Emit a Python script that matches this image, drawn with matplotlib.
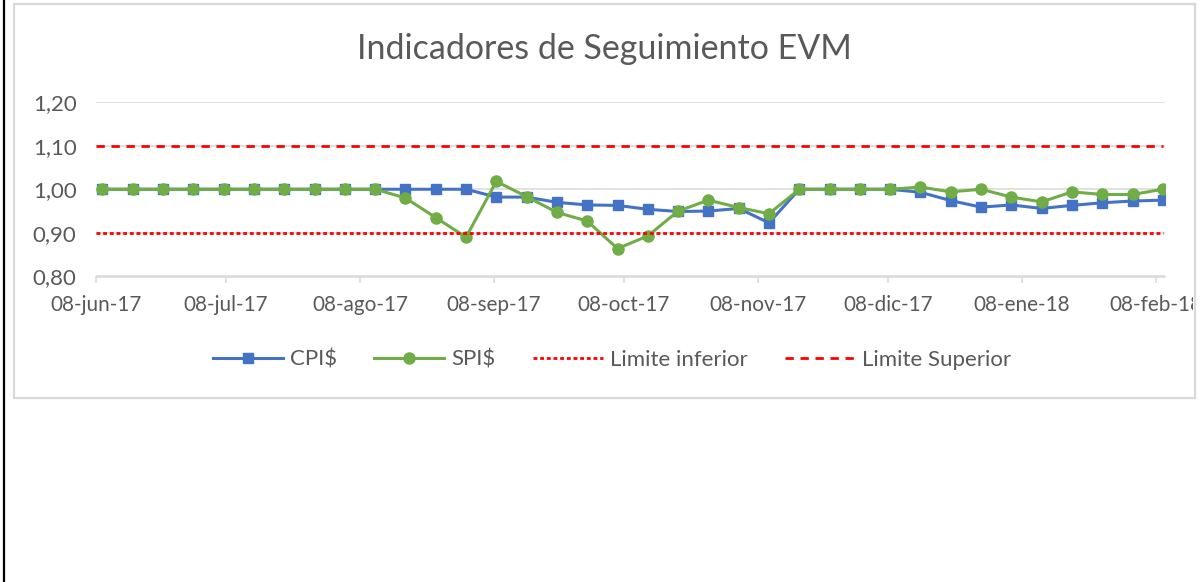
import matplotlib
matplotlib.use("Agg")
import matplotlib.pyplot as plt
from matplotlib.lines import Line2D
from matplotlib.patches import Rectangle
from matplotlib.transforms import Bbox, TransformedBbox
import pandas as pd

# Weekly reporting dates
fechas = [
    "2017-06-09", "2017-06-16", "2017-06-23", "2017-06-30", "2017-07-07", "2017-07-14",
    "2017-07-21", "2017-07-28", "2017-08-04", "2017-08-11", "2017-08-18", "2017-08-25",
    "2017-09-01", "2017-09-08", "2017-09-15", "2017-09-22", "2017-09-29", "2017-10-06",
    "2017-10-13", "2017-10-20", "2017-10-27", "2017-11-03", "2017-11-10", "2017-11-17",
    "2017-11-24", "2017-12-01", "2017-12-08", "2017-12-15", "2017-12-22", "2017-12-29",
    "2018-01-05", "2018-01-12", "2018-01-19", "2018-01-26", "2018-02-02", "2018-02-09",
]

# Cost performance index
cpi = [
    1.00, 1.00, 1.00, 1.00, 1.00, 1.00, 1.00, 1.00, 1.00, 1.00, 1.00, 1.00,
    1.00, 0.982, 0.982, 0.970, 0.964, 0.963, 0.954, 0.949, 0.950, 0.956,
    0.923, 1.00, 1.00, 1.00, 1.00, 0.993, 0.974, 0.959, 0.964, 0.956,
    0.963, 0.969, 0.973, 0.975,
]

# Schedule performance index
spi = [
    1.00, 1.00, 1.00, 1.00, 1.00, 1.00, 1.00, 1.00, 1.00, 1.00, 0.980, 0.935,
    0.890, 1.018, 0.983, 0.947, 0.927, 0.864, 0.893, 0.950, 0.975, 0.958,
    0.944, 1.00, 1.00, 1.00, 1.00, 1.005, 0.994, 1.000, 0.982, 0.971,
    0.994, 0.988, 0.988, 1.000,
]

limite_inferior = 0.90
limite_superior = 1.10

tick_fechas = ["2017-06-08", "2017-07-08", "2017-08-08", "2017-09-08", "2017-10-08",
               "2017-11-08", "2017-12-08", "2018-01-08", "2018-02-08"]
tick_labels = ["08-jun-17", "08-jul-17", "08-ago-17", "08-sep-17", "08-oct-17",
               "08-nov-17", "08-dic-17", "08-ene-18", "08-feb-18"]
y_ticks = [0.80, 0.90, 1.00, 1.10, 1.20]
y_labels = ["0,80", "0,90", "1,00", "1,10", "1,20"]

eje_inicio = "2017-06-08"
eje_fin = "2018-02-10"

plt.rcParams["font.family"] = ["Lato", "DejaVu Sans"]

TEXT = "#595959"
GRID = "#D9D9D9"
BLUE = "#4472C4"
GREEN = "#70AD47"
RED = "#FF0000"

W, H = 1203, 582
fig = plt.figure(figsize=(W / 100, H / 100), dpi=100)


def fx(px):
    return px / W


def fy(py):
    return 1 - py / H


ax = fig.add_axes([fx(96), fy(276.5), fx(1165) - fx(96), fy(102) - fy(276.5)])

# points sit in the middle of their day slot
x = pd.to_datetime(fechas) + pd.Timedelta(hours=12)

ax.plot(x, cpi, color=BLUE, lw=2.2, marker="s", ms=6.5, mec=BLUE, mfc=BLUE,
        label="CPI$", zorder=3)
ax.plot(x, spi, color=GREEN, lw=2.2, marker="o", ms=8, mec=GREEN, mfc=GREEN,
        label="SPI$", zorder=4)
ax.hlines(limite_inferior, pd.Timestamp(eje_inicio), x[-1], color=RED, lw=2.0,
          linestyles=[(0, (1.4, 1.0))], zorder=5)
ax.hlines(limite_superior, pd.Timestamp(eje_inicio), x[-1], color=RED, lw=2.0,
          linestyles=[(0, (3.0, 2.4))], zorder=5)

ax.set_xlim(pd.Timestamp(eje_inicio), pd.Timestamp(eje_fin))
ax.set_ylim(y_ticks[0], y_ticks[-1])
ax.set_yticks(y_ticks)
ax.set_yticklabels(y_labels)
ax.set_xticks(pd.to_datetime(tick_fechas))
ax.set_xticklabels(tick_labels)

ax.grid(axis="y", color=GRID, lw=1.1, zorder=0)
ax.set_axisbelow(True)
for side in ("left", "right", "top"):
    ax.spines[side].set_visible(False)
ax.spines["bottom"].set_color(GRID)
ax.spines["bottom"].set_linewidth(1.1)

ax.tick_params(axis="y", length=0, pad=14, labelsize=16, labelcolor=TEXT)
ax.tick_params(axis="x", length=4, width=1.1, color=GRID, pad=9.5,
               labelsize=14.9, labelcolor=TEXT)

# Legend
handles = [
    Line2D([], [], color=BLUE, lw=2.2, marker="s", ms=6.5),
    Line2D([], [], color=GREEN, lw=2.2, marker="o", ms=8),
    Line2D([], [], color=RED, lw=2.0, ls=(0, (1.4, 1.0))),
    Line2D([], [], color=RED, lw=2.0, ls=(0, (3.0, 2.4))),
]
labels = ["CPI$", "SPI$", "Limite inferior", "Limite Superior"]
leg = ax.legend(handles, labels, loc="center", ncol=4, frameon=False,
                bbox_to_anchor=(fx(612), fy(360)), bbox_transform=fig.transFigure,
                fontsize=16, handlelength=3.15, handletextpad=0.32,
                columnspacing=1.67, labelcolor=TEXT)

fig.text(fx(604), fy(49), "Indicadores de Seguimiento EVM", ha="center",
         va="center", fontsize=24.5, color=TEXT)

# Chart frame and page edge
fig.add_artist(Rectangle((fx(14), fy(398)), fx(1195) - fx(14), fy(4) - fy(398),
                         transform=fig.transFigure, fill=False,
                         edgecolor=GRID, lw=1.6))
fig.add_artist(Line2D([fx(4), fx(4)], [0, 1], transform=fig.transFigure,
                      color="black", lw=1.6))

# Labels are cut at the chart frame
frame_clip = TransformedBbox(Bbox([[fx(15), fy(397)], [fx(1193), fy(5)]]),
                             fig.transFigure)
for t in ax.get_xticklabels():
    t.set_clip_box(frame_clip)
    t.set_clip_on(True)

fig.savefig("out.png", dpi=100, facecolor="white")
